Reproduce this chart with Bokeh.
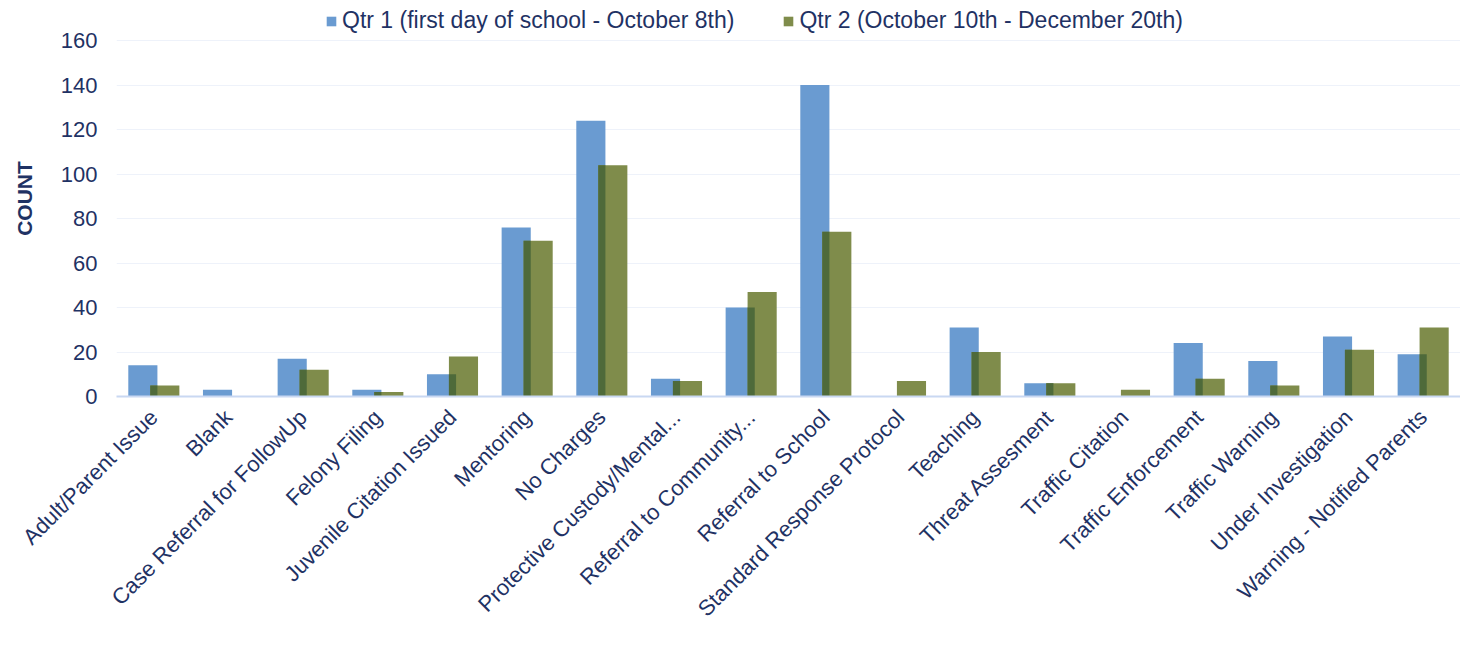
import numpy as np
from bokeh.plotting import figure
from bokeh.models import ColumnDataSource, Legend, LegendItem, FactorRange, Range1d
from bokeh.transform import dodge
from bokeh.embed import file_html
from bokeh.resources import INLINE

categories = ["Adult/Parent Issue", "Blank", "Case Referral for FollowUp", "Felony Filing",
              "Juvenile Citation Issued", "Mentoring", "No Charges", "Protective Custody/Mental...",
              "Referral to Community...", "Referral to School", "Standard Response Protocol",
              "Teaching", "Threat Assesment", "Traffic Citation", "Traffic Enforcement",
              "Traffic Warning", "Under Investigation", "Warning - Notified Parents"]
qtr1 = [14, 3, 17, 3, 10, 76, 124, 8, 40, 140, 0, 31, 6, 0, 24, 16, 27, 19]
qtr2 = [5, 0, 12, 2, 18, 70, 104, 7, 47, 74, 7, 20, 6, 3, 8, 5, 21, 31]
series_names = ["Qtr 1 (first day of school - October 8th)",
                "Qtr 2 (October 10th - December 20th)"]
y_ticks = [0, 20, 40, 60, 80, 100, 120, 140, 160]

BLUE = "#6a9bd1"
GREEN = "#7f8c4b"
DARK = "#4e6a3a"
NAVY = "#1f3264"
FONT = "Liberation Sans"

src = ColumnDataSource(dict(cat=categories, q1=qtr1, q2=qtr2,
                            ov=[min(a, b) for a, b in zip(qtr1, qtr2)]))

# frame reaches the top of the figure so the legend sits inside it, above the 160 line
p = figure(x_range=FactorRange(*categories), y_range=Range1d(0, 178),
           width=1460, height=633, output_backend="svg", toolbar_location=None,
           min_border_left=116, min_border_right=0, min_border_top=0, min_border_bottom=237)

r1 = p.vbar(x=dodge("cat", -0.147, range=p.x_range), top="q1", width=0.39, source=src,
            fill_color=BLUE, line_color=None)
r2 = p.vbar(x=dodge("cat", 0.147, range=p.x_range), top="q2", width=0.39, source=src,
            fill_color=GREEN, line_color=None)
p.vbar(x=dodge("cat", 0.0, range=p.x_range), top="ov", width=0.096, source=src,
       fill_color=DARK, line_color=None)

p.outline_line_color = None
p.xgrid.grid_line_color = None
p.ygrid.grid_line_color = "#eef2fa"
p.ygrid.grid_line_width = 1
p.yaxis.ticker = y_ticks
p.yaxis.axis_line_color = None
p.yaxis.major_tick_line_color = None
p.yaxis.minor_tick_line_color = None
p.yaxis.major_tick_out = 0
p.yaxis.major_label_text_font = FONT
p.yaxis.major_label_text_font_size = "22px"
p.yaxis.major_label_text_color = NAVY
p.yaxis.major_label_standoff = 19
p.yaxis.axis_label = "COUNT"
p.yaxis.axis_label_text_font = FONT
p.yaxis.axis_label_text_font_size = "21px"
p.yaxis.axis_label_text_font_style = "bold"
p.yaxis.axis_label_text_color = NAVY
p.yaxis.axis_label_standoff = 22

p.xaxis.axis_line_color = "#c9d8f2"
p.xaxis.axis_line_width = 2
p.xaxis.major_tick_line_color = None
p.xaxis.minor_tick_line_color = None
p.xaxis.major_tick_out = 0
p.xaxis.major_tick_in = 0
p.xaxis.major_label_orientation = np.pi / 4
p.xaxis.major_label_text_font = FONT
p.xaxis.major_label_text_font_size = "22px"
p.xaxis.major_label_text_color = NAVY
p.xaxis.major_label_standoff = 17

legend = Legend(items=[LegendItem(label=series_names[0], renderers=[r1]),
                       LegendItem(label=series_names[1], renderers=[r2])],
                orientation="horizontal", location=(209, 362))
legend.label_text_font = FONT
legend.label_text_font_size = "23px"
legend.label_text_color = NAVY
legend.glyph_width = 12
legend.glyph_height = 12
legend.label_standoff = 5
legend.spacing = 48
legend.padding = 0
legend.margin = 0
legend.border_line_color = None
legend.background_fill_alpha = 0
p.add_layout(legend)

open("out.html", "w").write(file_html(p, INLINE))
